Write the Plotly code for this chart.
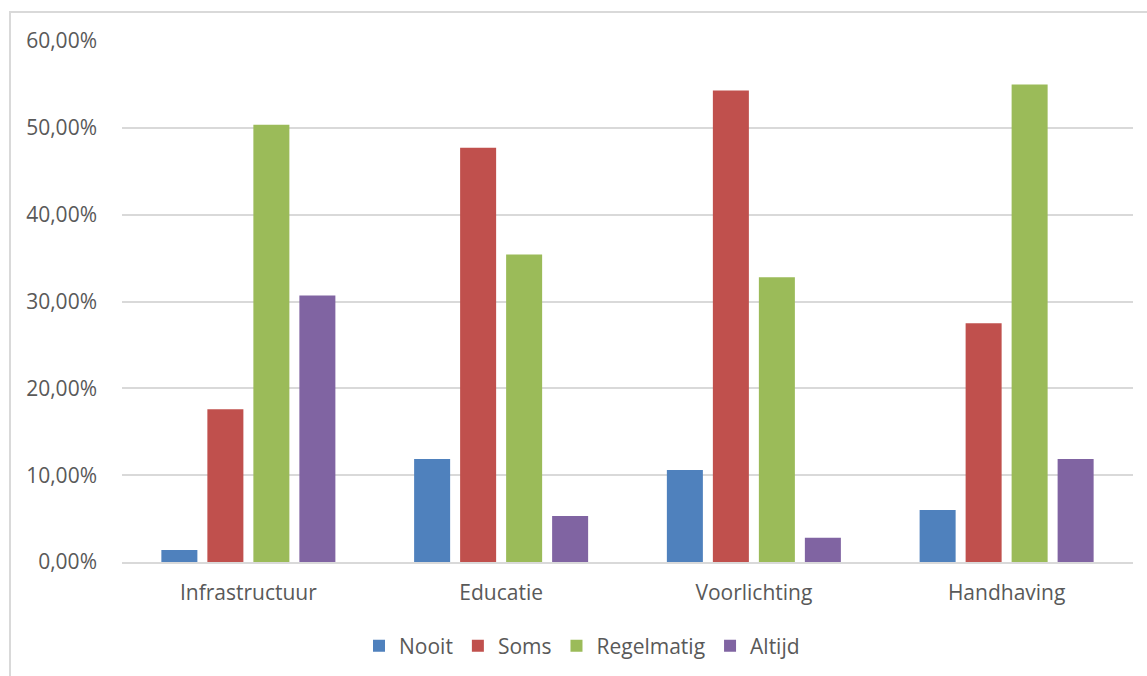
import plotly.graph_objects as go

categories = ["Infrastructuur", "Educatie", "Voorlichting", "Handhaving"]
nooit = [1.38, 11.85, 10.6, 6.0]
soms = [17.6, 47.7, 54.3, 27.5]
regelmatig = [50.35, 35.4, 32.8, 55.0]
altijd = [30.7, 5.3, 2.8, 11.85]
series_names = ["Nooit", "Soms", "Regelmatig", "Altijd"]
colors = ["#4f81bd", "#c0504d", "#9bbb59", "#8064a2"]
tick_vals = [0, 10, 20, 30, 40, 50, 60]
tick_text = ["0,00%", "10,00%", "20,00%", "30,00%", "40,00%", "50,00%", "60,00%"]

W, H = 1147, 676
L, R, T, B = 122, 14, 41, 114
pw, ph = W - L - R, H - T - B

fig = go.Figure()
for name, vals, c in zip(series_names, [nooit, soms, regelmatig, altijd], colors):
    fig.add_trace(go.Bar(x=categories, y=vals, name=name, marker=dict(color=c, line=dict(width=0))))

def px_x(x):
    return (x - L) / pw

def px_y(y):
    return (H - B - y) / ph

fig.update_layout(
    width=W, height=H,
    margin=dict(l=L, r=R, t=T, b=B),
    paper_bgcolor="white", plot_bgcolor="white",
    barmode="group", bargap=0.272, bargroupgap=0.217,
    font=dict(family="Open Sans", size=21, color="#595959"),
    xaxis=dict(showgrid=False, showline=True, linecolor="#d9d9d9", linewidth=2,
               ticks="", tickfont=dict(size=21, color="#595959"), ticklabelstandoff=11),
    yaxis=dict(range=[0, 60], tickvals=tick_vals, ticktext=tick_text, showgrid=True,
               gridcolor="#d9d9d9", gridwidth=2, zeroline=False, showline=False,
               ticks="", tickfont=dict(size=21, color="#595959"), ticklabelstandoff=24),
    legend=dict(orientation="h", xref="container", yref="container",
                x=582 / W, xanchor="center", y=1 - 646 / H, yanchor="middle",
                font=dict(size=21, color="#595959"), itemwidth=30, traceorder="normal"),
    shapes=[dict(type="rect", xref="paper", yref="paper",
                 x0=px_x(10), x1=px_x(1160), y0=px_y(700), y1=px_y(12),
                 line=dict(color="#d9d9d9", width=2), fillcolor="rgba(0,0,0,0)", layer="below")],
)
fig.write_html("out.html")
